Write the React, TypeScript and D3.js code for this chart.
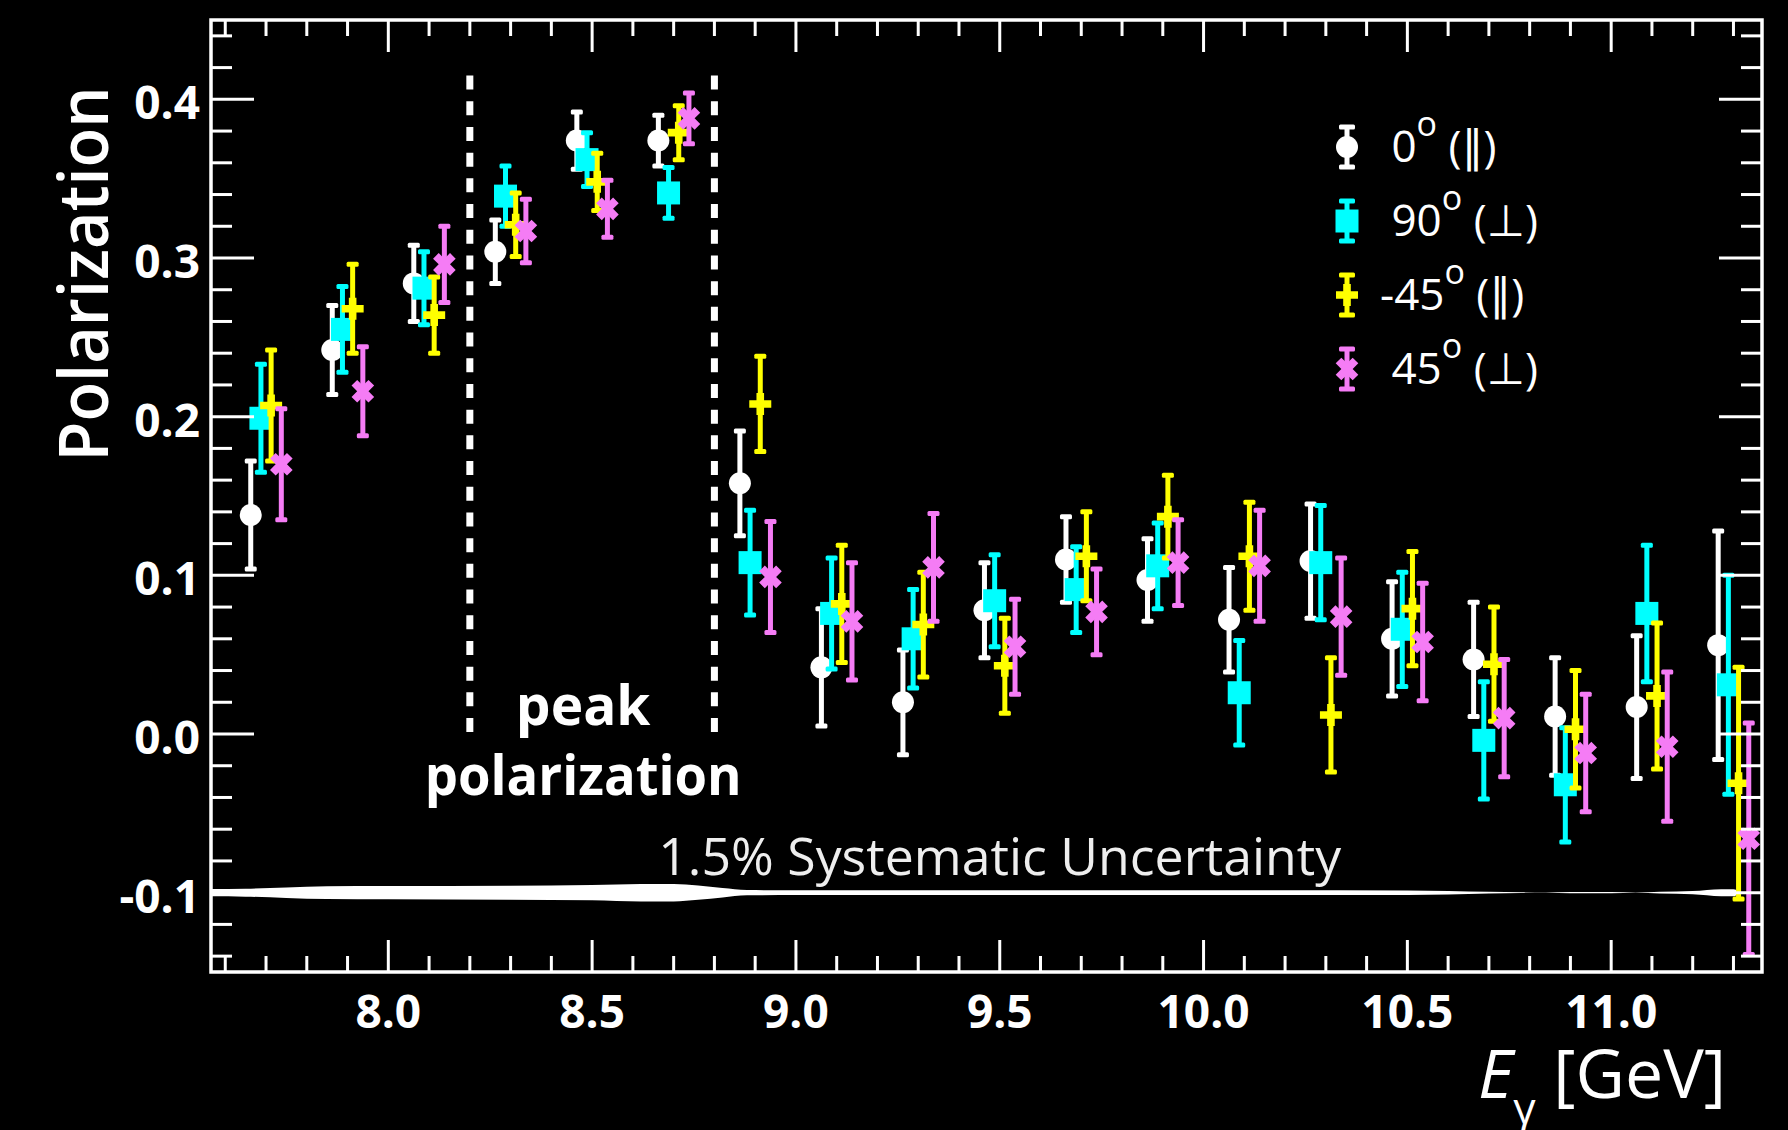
import React from 'react';
import * as d3 from 'd3';

// ---------------- data ----------------
const energyBins = [7.7, 7.9, 8.1, 8.3, 8.5, 8.7, 8.9, 9.1, 9.3, 9.5, 9.7, 9.9, 10.1, 10.3, 10.5, 10.7, 10.9, 11.1, 11.3];

const pol0 = [0.138, 0.242, 0.284, 0.304, 0.374, 0.374, 0.158, 0.042, 0.020, 0.078, 0.110, 0.097, 0.072, 0.109, 0.060, 0.047, 0.011, 0.017, 0.056];
const err0 = [0.034, 0.028, 0.024, 0.020, 0.018, 0.016, 0.033, 0.037, 0.033, 0.030, 0.027, 0.026, 0.033, 0.036, 0.036, 0.036, 0.037, 0.045, 0.072];

const pol90 = [0.199, 0.255, 0.281, 0.339, 0.362, 0.341, 0.108, 0.076, 0.060, 0.084, 0.091, 0.106, 0.026, 0.108, 0.066, -0.004, -0.032, 0.076, 0.031];
const err90 = [0.034, 0.027, 0.023, 0.019, 0.017, 0.016, 0.033, 0.035, 0.031, 0.029, 0.027, 0.027, 0.033, 0.036, 0.036, 0.037, 0.036, 0.043, 0.069];

const polM45 = [0.207, 0.268, 0.264, 0.321, 0.348, 0.379, 0.208, 0.082, 0.069, 0.043, 0.112, 0.137, 0.112, 0.012, 0.079, 0.044, 0.003, 0.024, -0.031];
const errM45 = [0.035, 0.028, 0.024, 0.020, 0.018, 0.017, 0.030, 0.037, 0.033, 0.030, 0.028, 0.026, 0.034, 0.036, 0.036, 0.036, 0.037, 0.046, 0.073];

const pol45 = [0.170, 0.216, 0.296, 0.317, 0.331, 0.388, 0.099, 0.071, 0.105, 0.055, 0.077, 0.108, 0.106, 0.074, 0.058, 0.010, -0.012, -0.008, -0.066];
const err45 = [0.035, 0.028, 0.024, 0.020, 0.018, 0.016, 0.035, 0.037, 0.034, 0.030, 0.027, 0.027, 0.035, 0.037, 0.037, 0.037, 0.037, 0.047, 0.073];

const seriesAngles = ['\u00A00', '\u00A090', '-45', '\u00A045'];
const seriesOrient = ['\u2225', '\u22A5', '\u2225', '\u22A5'];

// systematic uncertainty band (centered at -0.1)
const bandLevel = -0.1;
const bandEnergy = [7.565, 7.65, 7.75, 7.85, 8.0, 8.3, 8.5, 8.62, 8.7, 8.76, 8.82, 8.88, 9.0, 9.5, 10.0, 10.5, 10.6, 10.7, 10.78, 10.84, 10.9, 11.0, 11.06, 11.12, 11.2, 11.27, 11.3, 11.315];
const bandHalfWidth = [0.0023, 0.0025, 0.0033, 0.0040, 0.0042, 0.0044, 0.0048, 0.0055, 0.0055, 0.0045, 0.0030, 0.0017, 0.0015, 0.0015, 0.0015, 0.0014, 0.0011, 0.0006, 0.0002, 0.0001, 0.0004, 0.0004, 0.0001, 0.0005, 0.0010, 0.0022, 0.0022, 0.0005];

const peakEdges = [8.2, 8.8];
const peakLineTop = 0.415;

const xMajorTicks = [8.0, 8.5, 9.0, 9.5, 10.0, 10.5, 11.0];
const xTickLabels = ['8.0', '8.5', '9.0', '9.5', '10.0', '10.5', '11.0'];
const yMajorTicks = [-0.1, 0.0, 0.1, 0.2, 0.3, 0.4];
const yTickLabels = ['-0.1', '0.0', '0.1', '0.2', '0.3', '0.4'];

// ---------------- layout ----------------
const W = 1788, H = 1130;
const L = 211, R = 1762, T = 20, B = 972;
const FONT = "'Open Sans', 'DejaVu Sans', sans-serif";

const x = d3.scaleLinear().domain([7.565, 11.37]).range([L, R]);
const y = d3.scaleLinear().domain([-0.15, 0.45]).range([B, T]);

const series = [
  { vals: pol0, errs: err0, color: '#ffffff', shape: 'circle', dx: -0.0375 },
  { vals: pol90, errs: err90, color: '#00ffff', shape: 'square', dx: -0.0125 },
  { vals: polM45, errs: errM45, color: '#ffff00', shape: 'cross', dx: 0.0125 },
  { vals: pol45, errs: err45, color: '#f57cf5', shape: 'x', dx: 0.0375 },
];

function plusPath(a: number, t: number) {
  return `M${-t},${-a}H${t}V${-t}H${a}V${t}H${t}V${a}H${-t}V${t}H${-a}V${-t}H${-t}Z`;
}

function Marker({ shape, color, cx, cy }: { shape: string; color: string; cx: number; cy: number }) {
  if (shape === 'circle') return <circle cx={cx} cy={cy} r={11} fill={color} />;
  if (shape === 'square') return <rect x={cx - 11.5} y={cy - 11.5} width={23} height={23} fill={color} />;
  if (shape === 'cross') return <path d={plusPath(11, 3.8)} transform={`translate(${cx},${cy})`} fill={color} />;
  return <path d={plusPath(12, 4)} transform={`translate(${cx},${cy}) rotate(45)`} fill={color} />;
}

function ErrorBar({ cx, y1, y2, color, cap = 12 }: { cx: number; y1: number; y2: number; color: string; cap?: number }) {
  return (
    <g fill={color}>
      <line x1={cx} x2={cx} y1={y1} y2={y2} stroke={color} strokeWidth={5} />
      <rect x={cx - cap / 2} y={y1 - 2.5} width={cap} height={5} rx={1.5} />
      <rect x={cx - cap / 2} y={y2 - 2.5} width={cap} height={5} rx={1.5} />
    </g>
  );
}

export default function App() {
  const xMinor = d3.range(76, 114).map((d) => d / 10);
  const yMinor = d3.range(-7, 23).map((d) => d / 50);

  const band = d3
    .area<number>()
    .x((_, i) => x(bandEnergy[i]))
    .y0((_, i) => y(bandLevel - bandHalfWidth[i]))
    .y1((_, i) => y(bandLevel + bandHalfWidth[i]))
    .curve(d3.curveMonotoneX);

  const legendX = 1347;
  const legendRows = [147, 221, 295, 369];

  return (
    <svg
      width={W}
      height={H}
      style={{ position: 'fixed', left: 0, top: 0, display: 'block', background: '#000' }}
      fontFamily={FONT}
    >
      <rect x={0} y={0} width={W} height={H} fill="#000" />

      {/* systematic band */}
      <path d={band(bandEnergy) || ''} fill="#ffffff" />
      <text
        x={x(9.5)}
        y={875}
        fill="#eeeeee"
        fontSize={52}
        textAnchor="middle"
        textLength={683}
        lengthAdjust="spacingAndGlyphs"
      >
        1.5% Systematic Uncertainty
      </text>

      {/* peak region dashed lines */}
      {peakEdges.map((e) => (
        <line
          key={e}
          x1={x(e)}
          x2={x(e)}
          y1={y(peakLineTop)}
          y2={y(0)}
          stroke="#fff"
          strokeWidth={7}
          strokeDasharray="14 11.7"
        />
      ))}
      <text x={x(8.478)} y={725} fill="#fff" fontSize={55} fontWeight={700} textAnchor="middle">
        peak
      </text>
      <text x={x(8.478)} y={795} fill="#fff" fontSize={55} fontWeight={700} textAnchor="middle" textLength={317} lengthAdjust="spacingAndGlyphs">
        polarization
      </text>

      {/* data */}
      {series.map((s, si) => (
        <g key={si}>
          {energyBins.map((e, i) => {
            const cx = x(e + s.dx);
            return (
              <g key={i}>
                <ErrorBar cx={cx} y1={y(s.vals[i] + s.errs[i])} y2={y(s.vals[i] - s.errs[i])} color={s.color} />
                <Marker shape={s.shape} color={s.color} cx={cx} cy={y(s.vals[i])} />
              </g>
            );
          })}
        </g>
      ))}

      {/* frame */}
      <rect x={L} y={T} width={R - L} height={B - T} fill="none" stroke="#fff" strokeWidth={3.5} />

      {/* ticks */}
      <g stroke="#fff" strokeWidth={3}>
        {xMinor.map((v) => {
          const major = xMajorTicks.some((m) => Math.abs(m - v) < 1e-6);
          const len = major ? 32 : 16;
          return (
            <g key={v}>
              <line x1={x(v)} x2={x(v)} y1={B} y2={B - len} />
              <line x1={x(v)} x2={x(v)} y1={T} y2={T + len} />
            </g>
          );
        })}
        {yMinor.map((v) => {
          const major = yMajorTicks.some((m) => Math.abs(m - v) < 1e-6);
          const len = major ? 43 : 21;
          return (
            <g key={v}>
              <line x1={L} x2={L + len} y1={y(v)} y2={y(v)} />
              <line x1={R} x2={R - len} y1={y(v)} y2={y(v)} />
            </g>
          );
        })}
      </g>

      {/* tick labels */}
      {xMajorTicks.map((v, i) => (
        <text key={v} x={x(v)} y={1028} fill="#fff" fontSize={46} fontWeight={700} textAnchor="middle">
          {xTickLabels[i]}
        </text>
      ))}
      {yMajorTicks.map((v, i) => (
        <text key={v} x={200} y={y(v) + 20} fill="#fff" fontSize={46} fontWeight={700} textAnchor="end">
          {yTickLabels[i]}
        </text>
      ))}

      {/* axis titles */}
      <text
        transform={`translate(108, 274) rotate(-90)`}
        fill="#fff"
        fontSize={68}
        fontWeight={600}
        textAnchor="middle"
        textLength={375}
        lengthAdjust="spacingAndGlyphs"
      >
        Polarization
      </text>
      <text x={1478} y={1098} fill="#fff" fontSize={68}>
        <tspan fontStyle="italic">E</tspan>
        <tspan fontSize={44} dy={26}>
          γ
        </tspan>
        <tspan dy={-26}> [GeV]</tspan>
      </text>

      {/* legend */}
      {series.map((s, i) => {
        const cy = legendRows[i];
        return (
          <g key={i}>
            <ErrorBar cx={legendX} y1={cy - 20} y2={cy + 20} color={s.color} cap={16} />
            <Marker shape={s.shape} color={s.color} cx={legendX} cy={cy} />
            <text x={1380} y={cy + 15} fill="#fff" fontSize={44}>
              {seriesAngles[i]}
              <tspan fontSize={34} dy={-26}>
                o
              </tspan>
              <tspan dy={26}>{' (' + seriesOrient[i] + ')'}</tspan>
            </text>
          </g>
        );
      })}
    </svg>
  );
}
